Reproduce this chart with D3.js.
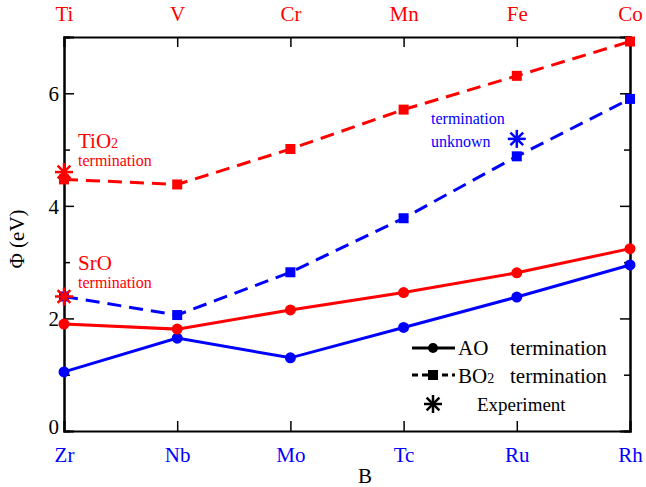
<!DOCTYPE html>
<html>
<head>
<meta charset="utf-8">
<script src="https://cdn.jsdelivr.net/npm/d3@7"></script>
<style>
  body { margin: 0; background: #fff; }
  svg text { font-family: "Liberation Serif", "Times New Roman", Times, "DejaVu Serif", serif !important; }
</style>
</head>
<body>
<svg id="chart"></svg>
<script>
// B-site elements (bottom axis, blue) and top axis (red)
const bottomLabels = ["Zr", "Nb", "Mo", "Tc", "Ru", "Rh"];
const topLabels = ["Ti", "V", "Cr", "Mn", "Fe", "Co"];

// work function values (eV)
const srAO = [1.90, 1.81, 2.15, 2.46, 2.81, 3.24];
const baAO = [1.05, 1.65, 1.30, 1.84, 2.38, 2.95];
const srBO2 = [4.47, 4.38, 5.01, 5.71, 6.31, 6.92];
const baBO2 = [2.39, 2.06, 2.82, 3.78, 4.88, 5.90];

// experiment points: [category index, value, colour key]
const expIdx = [0, 0, 4];
const expVal = [4.60, 2.39, 5.19];
const expCol = ["red", "red", "blue"];

const yTicks = [0, 2, 4, 6];
const yMinor = [1, 3, 5, 7];

const width = 646, height = 487;
const margin = {left: 64, right: 16, top: 37, bottom: 56};

const svg = d3.select("#chart").attr("width", width).attr("height", height);

const x = d3.scalePoint().domain(d3.range(bottomLabels.length))
            .range([margin.left, width - margin.right]);
const y = d3.scaleLinear().domain([0, 7]).range([height - margin.bottom, margin.top]);

const RED = "#ff0000", BLUE = "#0000ff";
const colors = {red: RED, blue: BLUE};

// axes
const gBottom = svg.append("g").attr("transform", `translate(0,${y(0)})`)
  .call(d3.axisBottom(x).tickSize(-10).tickFormat(i => bottomLabels[i]).tickPadding(16));
const gTop = svg.append("g").attr("transform", `translate(0,${y(7)})`)
  .call(d3.axisTop(x).tickSize(-10).tickFormat(i => topLabels[i]).tickPadding(16));
const gLeft = svg.append("g").attr("transform", `translate(${margin.left},0)`)
  .call(d3.axisLeft(y).tickValues(yTicks).tickSize(-10).tickFormat(d3.format("d")).tickPadding(4));
const gLeftMinor = svg.append("g").attr("transform", `translate(${margin.left},0)`)
  .call(d3.axisLeft(y).tickValues(yMinor).tickSize(-6).tickFormat(""));
const gRight = svg.append("g").attr("transform", `translate(${width - margin.right},0)`)
  .call(d3.axisRight(y).tickValues(yTicks).tickSize(-10).tickFormat(""));
const gRightMinor = svg.append("g").attr("transform", `translate(${width - margin.right},0)`)
  .call(d3.axisRight(y).tickValues(yMinor).tickSize(-6).tickFormat(""));

[gBottom, gTop, gLeft, gLeftMinor, gRight, gRightMinor].forEach(g => {
  g.attr("font-family", null);
  g.select(".domain").attr("stroke", "#000").attr("stroke-width", 2);
  g.selectAll(".tick line").attr("stroke", "#000").attr("stroke-width", 1.5);
  g.selectAll(".tick text").attr("font-size", 21);
});
gBottom.selectAll(".tick text").attr("fill", BLUE);
gTop.selectAll(".tick text").attr("fill", RED).attr("dy", "0");
gLeft.selectAll(".tick text").attr("fill", "#000").attr("dx", "-1").attr("dy", "0.35em");
gLeft.selectAll(".tick").filter(d => d === 0).select("text").attr("dy", "0.1em");
gLeft.selectAll(".tick").filter(d => d === 0).select("line").remove();
gRight.selectAll(".tick").filter(d => d === 0).select("line").remove();

// axis titles
svg.append("text").attr("x", 358).attr("y", 483).attr("font-size", 21).text("B");
svg.append("text")
  .attr("transform", `translate(24,${(y(0) + y(7)) / 2 + 5}) rotate(-90)`)
  .attr("text-anchor", "middle").attr("font-size", 21).text("Φ (eV)");

const plot = svg.append("g");
const line = d3.line().x((d, i) => x(i)).y(d => y(d));

function drawSeries(vals, color, dashed, marker) {
  plot.append("path").datum(vals)
    .attr("d", line).attr("fill", "none").attr("stroke", color)
    .attr("stroke-width", 3).attr("stroke-dasharray", dashed ? "14,8" : null);
  if (marker === "circle") {
    plot.selectAll(null).data(vals).enter().append("circle")
      .attr("cx", (d, i) => x(i)).attr("cy", d => y(d)).attr("r", 5.5).attr("fill", color);
  } else {
    plot.selectAll(null).data(vals).enter().append("rect")
      .attr("x", (d, i) => x(i) - 5).attr("y", d => y(d) - 5)
      .attr("width", 10).attr("height", 10).attr("fill", color);
  }
}

drawSeries(srBO2, RED, true, "square");
drawSeries(baBO2, BLUE, true, "square");
drawSeries(baAO, BLUE, false, "circle");
drawSeries(srAO, RED, false, "circle");

function star(g, cx, cy, r, color) {
  const arms = [0, 45, 90, 135];
  arms.forEach(a => {
    const rad = a * Math.PI / 180;
    g.append("line")
      .attr("x1", cx - r * Math.cos(rad)).attr("y1", cy - r * Math.sin(rad))
      .attr("x2", cx + r * Math.cos(rad)).attr("y2", cy + r * Math.sin(rad))
      .attr("stroke", color).attr("stroke-width", 2.5);
  });
}
expVal.forEach((v, k) => star(plot, x(expIdx[k]), y(v), 9, colors[expCol[k]]));

// annotations
function annot(xp, yp, big, sub, small, color) {
  const t = svg.append("text").attr("x", xp).attr("y", yp).attr("fill", color).attr("font-size", 21);
  t.append("tspan").text(big);
  if (sub) t.append("tspan").attr("font-size", 14).text(sub);
  svg.append("text").attr("x", xp).attr("y", yp + 18).attr("fill", color)
    .attr("font-size", 16).text(small);
}
annot(78, 148, "TiO", "2", "termination", RED);
annot(78, 270, "SrO", null, "termination", RED);
svg.append("text").attr("x", 431).attr("y", 124).attr("fill", BLUE).attr("font-size", 16).text("termination");
svg.append("text").attr("x", 431).attr("y", 147).attr("fill", BLUE).attr("font-size", 16).text("unknown");

// legend
const lg = svg.append("g");
lg.append("line").attr("x1", 412).attr("x2", 455).attr("y1", 348).attr("y2", 348)
  .attr("stroke", "#000").attr("stroke-width", 3);
lg.append("circle").attr("cx", 433).attr("cy", 348).attr("r", 5).attr("fill", "#000");
lg.append("text").attr("x", 458).attr("y", 355).attr("font-size", 21).text("AO");
lg.append("text").attr("x", 510).attr("y", 355).attr("font-size", 21).text("termination");

lg.append("line").attr("x1", 412).attr("x2", 455).attr("y1", 375).attr("y2", 375)
  .attr("stroke", "#000").attr("stroke-width", 3).attr("stroke-dasharray", "6,4");
lg.append("rect").attr("x", 428).attr("y", 370).attr("width", 10).attr("height", 10).attr("fill", "#000");
const bt = lg.append("text").attr("x", 458).attr("y", 383).attr("font-size", 21);
bt.append("tspan").text("BO");
bt.append("tspan").attr("font-size", 14).text("2");
lg.append("text").attr("x", 510).attr("y", 383).attr("font-size", 21).text("termination");

star(lg, 433, 404, 9, "#000");
lg.append("text").attr("x", 477).attr("y", 411).attr("font-size", 19).text("Experiment");
</script>
</body>
</html>
